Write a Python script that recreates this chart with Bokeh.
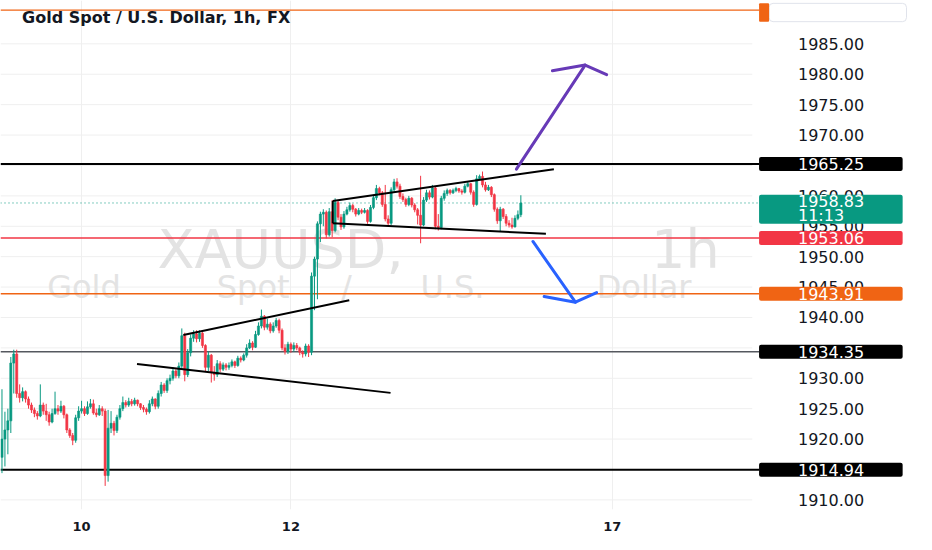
from bokeh.core.properties import value
from bokeh.embed import file_html
from bokeh.models import ColumnDataSource, FixedTicker, Label, Range1d
from bokeh.plotting import figure
from bokeh.resources import INLINE

# XAUUSD 1h candles (open of bar n = close of bar n-1)
first_open = 1917.0
closes = [
    1920.0, 1921.5, 1923.0, 1932.5, 1934.0, 1927.5, 1926.8, 1927.8, 1926.6, 1925.6,
    1924.8, 1924.2, 1923.8, 1925.6, 1924.6, 1924.0, 1922.8, 1924.2, 1925.0, 1924.6,
    1925.4, 1924.0, 1921.5, 1920.6, 1919.8, 1923.5, 1924.6, 1925.0, 1924.2, 1925.3,
    1925.8, 1924.3, 1924.0, 1925.0, 1924.6, 1914.0, 1921.8, 1922.6, 1921.4, 1923.6,
    1925.0, 1926.0, 1925.6, 1926.2, 1925.8, 1926.4, 1925.8, 1925.2, 1924.9, 1924.5,
    1925.8, 1926.6, 1925.4, 1927.5, 1928.9, 1928.0, 1929.6, 1930.0, 1931.2, 1930.4,
    1932.0, 1937.0, 1930.6, 1934.2, 1936.6, 1937.3, 1936.5, 1937.4, 1935.4, 1931.8,
    1933.8, 1931.0, 1930.6, 1932.4, 1931.5, 1932.2, 1931.8, 1932.1, 1932.7, 1932.1,
    1933.3, 1933.0, 1933.8, 1935.0, 1935.8, 1935.1, 1937.2, 1938.6, 1940.2, 1938.4,
    1938.9, 1937.8, 1938.6, 1939.5, 1937.9, 1935.0, 1934.4, 1935.6, 1934.8, 1935.4,
    1935.0, 1934.3, 1934.0, 1935.3, 1934.3, 1946.8, 1949.6, 1955.4, 1957.0, 1957.3,
    1953.6, 1957.4, 1954.3, 1958.9, 1956.5, 1954.9, 1957.0, 1957.7, 1958.4, 1957.8,
    1957.0, 1957.6, 1957.3, 1957.6, 1955.8, 1958.1, 1959.7, 1961.2, 1960.5, 1958.6,
    1956.2, 1955.5, 1961.0, 1962.3, 1961.6, 1959.9, 1959.4, 1958.6, 1959.6, 1958.5,
    1957.7, 1956.8, 1955.2, 1959.3, 1960.5, 1959.8, 1961.3, 1955.0, 1954.8, 1959.6,
    1960.4, 1960.9, 1960.5, 1960.9, 1961.2, 1960.8, 1960.6, 1961.6, 1962.0, 1960.6,
    1958.6, 1962.8, 1963.2, 1961.8, 1961.0, 1961.4, 1960.2, 1957.8, 1955.9, 1957.8,
    1956.6, 1955.5, 1955.2, 1954.9, 1956.3, 1956.9, 1958.83,
]
highs = [
    1928.2, 1924.5, 1925.0, 1933.5, 1934.7, 1934.7, 1929.0, 1928.5, 1928.0, 1927.0,
    1926.0, 1925.2, 1924.6, 1929.0, 1926.0, 1925.8, 1924.5, 1925.0, 1927.8, 1925.6,
    1926.3, 1925.6, 1924.2, 1921.8, 1921.0, 1924.0, 1925.4, 1926.3, 1925.4, 1926.2,
    1926.6, 1926.5, 1925.0, 1925.6, 1925.4, 1925.0, 1924.8, 1924.6, 1923.0, 1924.0,
    1925.6, 1927.0, 1926.4, 1926.8, 1926.6, 1926.8, 1926.5, 1925.9, 1925.6, 1925.2,
    1926.4, 1927.0, 1926.7, 1928.0, 1929.4, 1929.2, 1930.0, 1930.6, 1931.8, 1931.5,
    1932.6, 1938.2, 1937.5, 1934.8, 1937.2, 1937.9, 1937.9, 1937.9, 1937.6, 1935.6,
    1934.4, 1934.0, 1932.0, 1933.0, 1932.8, 1932.6, 1932.5, 1932.6, 1933.1, 1932.9,
    1933.7, 1933.6, 1934.1, 1935.6, 1936.4, 1936.1, 1937.8, 1939.2, 1941.3, 1940.4,
    1939.8, 1939.2, 1939.2, 1939.9, 1939.8, 1938.2, 1935.6, 1936.0, 1935.9, 1935.9,
    1935.8, 1935.2, 1934.6, 1935.7, 1935.6, 1947.4, 1950.0, 1955.8, 1957.4, 1957.8,
    1957.6, 1958.0, 1959.3, 1959.6, 1959.2, 1957.0, 1957.5, 1958.2, 1958.9, 1958.7,
    1958.0, 1958.0, 1957.9, 1958.0, 1957.8, 1958.5, 1960.2, 1961.8, 1961.5, 1960.8,
    1961.8, 1956.8, 1961.4, 1962.8, 1962.9, 1962.0, 1960.4, 1959.7, 1960.0, 1959.8,
    1958.8, 1958.0, 1963.3, 1959.8, 1961.0, 1960.9, 1961.8, 1961.6, 1957.0, 1960.0,
    1960.9, 1961.2, 1961.1, 1961.2, 1961.5, 1961.3, 1961.1, 1962.0, 1962.3, 1962.1,
    1960.9, 1963.4, 1963.5, 1964.0, 1962.3, 1961.8, 1961.6, 1960.4, 1958.1, 1958.2,
    1958.0, 1957.0, 1956.0, 1956.4, 1956.8, 1957.6, 1960.1,
]
lows = [
    1914.4, 1915.5, 1917.5, 1921.0, 1927.5, 1926.8, 1926.0, 1926.2, 1926.0, 1925.0,
    1924.3, 1923.6, 1923.2, 1923.6, 1924.0, 1923.0, 1922.2, 1922.6, 1924.0, 1924.0,
    1924.3, 1923.4, 1921.0, 1920.2, 1919.0, 1919.4, 1923.0, 1924.2, 1923.8, 1924.0,
    1925.0, 1924.0, 1923.6, 1923.8, 1923.8, 1912.3, 1913.0, 1921.0, 1920.6, 1921.0,
    1923.2, 1924.6, 1925.2, 1925.3, 1925.4, 1925.5, 1925.4, 1924.8, 1924.4, 1924.0,
    1924.2, 1925.4, 1924.9, 1925.0, 1927.0, 1927.6, 1927.6, 1929.0, 1929.6, 1930.0,
    1930.0, 1931.5, 1929.5, 1930.2, 1933.6, 1936.0, 1935.9, 1936.0, 1935.0, 1931.2,
    1931.2, 1929.3, 1929.6, 1930.2, 1931.0, 1931.2, 1931.3, 1931.4, 1931.8, 1931.7,
    1931.9, 1932.6, 1932.8, 1933.4, 1934.8, 1934.6, 1935.0, 1937.0, 1938.2, 1937.9,
    1938.0, 1937.4, 1937.5, 1938.3, 1937.4, 1934.6, 1933.9, 1934.0, 1934.2, 1934.4,
    1934.6, 1933.8, 1933.4, 1933.6, 1933.5, 1933.8, 1941.2, 1943.0, 1952.4, 1955.0,
    1953.0, 1953.3, 1953.2, 1954.0, 1956.0, 1954.4, 1954.6, 1956.8, 1957.4, 1957.3,
    1956.6, 1956.8, 1957.0, 1957.1, 1955.4, 1955.6, 1957.8, 1959.3, 1960.1, 1958.2,
    1955.8, 1955.0, 1955.2, 1960.6, 1961.2, 1959.5, 1959.0, 1958.2, 1958.3, 1958.1,
    1957.3, 1955.3, 1952.2, 1955.0, 1959.0, 1959.4, 1959.6, 1954.5, 1954.3, 1954.5,
    1959.2, 1960.0, 1960.2, 1960.3, 1960.6, 1960.5, 1960.2, 1960.4, 1961.4, 1960.2,
    1958.2, 1958.4, 1962.6, 1961.4, 1960.7, 1960.8, 1959.8, 1957.4, 1955.4, 1954.2,
    1956.2, 1955.0, 1954.8, 1954.6, 1954.8, 1956.0, 1956.5,
]

# day labels of the time axis (bar positions) and price ticks
day_ticks = [27, 98, 207]
day_labels = ["10", "12", "17"]
grid_prices = [1910, 1915, 1920, 1925, 1930, 1935, 1940, 1945, 1950, 1955,
               1960, 1965, 1970, 1975, 1980, 1985]
label_prices = [1910, 1920, 1925, 1930, 1940, 1945, 1950, 1955, 1960,
                1970, 1975, 1980, 1985]

# horizontal levels drawn on the chart
level_prices = [1965.25, 1953.06, 1943.91, 1934.35, 1914.94]
level_texts = ["1965.25", "1953.06", "1943.91", "1934.35", "1914.94"]
level_colors = ["#000000", "#f23645", "#f06414", "#55585f", "#000000"]
tag_colors = ["#000000", "#f23645", "#f06414", "#000000", "#000000"]
level_widths = [2, 1.5, 1.5, 1.5, 2]
alert_price = 1990.55
last_price = 1958.83
last_text = "1958.83"
countdown = "11:13"

# trend lines (bar, price)
trend_x0 = [45.8, 61.5, 112.2, 112.2, 112.2]
trend_y0 = [1932.36, 1937.12, 1959.16, 1955.51, 1959.16]
trend_x1 = [131.8, 117.8, 187.2, 184.5, 112.2]
trend_y1 = [1927.60, 1942.82, 1964.39, 1953.76, 1955.51]

# projection arrows: start, tip, two head ends
up_arrow_x = [174.5, 197.8, 186.7, 205.1]
up_arrow_y = [1964.39, 1981.51, 1980.56, 1979.93]
down_arrow_x = [180.1, 194.5, 183.9, 201.7]
down_arrow_y = [1952.50, 1942.51, 1943.46, 1944.09]

GREEN = "#089981"
RED = "#f23645"
ORANGE = "#f06414"
INK = "#131722"
FONT = "DejaVu Sans"

# the price scale lives inside the frame, right of the chart pane
PANE_END = 254.5     # last bar slot of the chart pane
TAG_L, TAG_R = 256.8, 305.5
SCALE_TEXT_X = 270.0

p = figure(width=916, height=534, output_backend="svg", toolbar_location=None,
           x_range=Range1d(-0.5, 310.2), y_range=Range1d(1908.42, 1992.13),
           y_axis_location=None, min_border_left=0, min_border_top=0,
           min_border_right=0, min_border_bottom=25)
p.outline_line_color = None
p.background_fill_color = "white"
p.border_fill_color = "white"

p.ygrid.visible = False
p.xgrid.ticker = FixedTicker(ticks=day_ticks)
p.xgrid.grid_line_color = "#efefef"

p.xaxis.ticker = FixedTicker(ticks=day_ticks)
p.xaxis.major_label_overrides = dict(zip(day_ticks, day_labels))
p.xaxis.major_label_standoff = 6
p.xaxis.major_label_text_font = FONT
p.xaxis.major_label_text_font_style = "bold"
p.xaxis.major_label_text_font_size = "13px"
p.xaxis.major_label_text_color = INK
p.xaxis.axis_line_color = None
p.xaxis.major_tick_line_color = None
p.xaxis.minor_tick_line_color = None

# horizontal grid of the pane
p.segment(x0=-0.5, x1=PANE_END, y0=grid_prices, y1=grid_prices,
          line_color="#efefef", line_width=1)

# watermark
p.text(x=[94.5, 231.8], y=[1951.2, 1951.2], text=["XAUUSD,", "1h"],
       text_font=value(FONT), text_font_size="54px", text_color="#e3e3e3",
       text_align="center", text_baseline="alphabetic")
p.text(x=[27.8, 85.2, 116.8, 152.8, 217.8], y=[1945.0] * 5,
       text=["Gold", "Spot", "/", "U.S.", "Dollar"],
       text_font=value(FONT), text_font_size="32px", text_color="#e3e3e3",
       text_align="center", text_baseline="alphabetic")

# price scale tick labels
p.text(x=SCALE_TEXT_X, y=label_prices, text=[f"{v:.2f}" for v in label_prices],
       text_font=value(FONT), text_font_size="16px", text_color=INK,
       text_align="left", text_baseline="middle")

# level lines, running up to their tags
lvl = ColumnDataSource(dict(y=level_prices + [alert_price],
                            color=level_colors + [ORANGE],
                            width=level_widths + [1.2]))
p.segment(x0=-0.5, x1=TAG_L, y0="y", y1="y", line_color="color", line_width="width", source=lvl)
p.segment(x0=-0.5, x1=TAG_L, y0=last_price, y1=last_price,
          line_color=GREEN, line_width=1, line_dash="1 3")

# candles
opens = [first_open] + closes[:-1]
src = ColumnDataSource(dict(
    x=list(range(len(closes))),
    high=highs, low=lows,
    top=[max(o, c) for o, c in zip(opens, closes)],
    bottom=[min(o, c) for o, c in zip(opens, closes)],
    color=[GREEN if c >= o else RED for o, c in zip(opens, closes)],
))
p.segment(x0="x", y0="low", x1="x", y1="high", line_color="color", line_width=1, source=src)
p.vbar(x="x", width=0.72, top="top", bottom="bottom", fill_color="color",
       line_color="color", line_width=0.6, source=src)

# drawings
p.segment(x0=trend_x0, y0=trend_y0, x1=trend_x1, y1=trend_y1,
          line_color="black", line_width=2)
for ax_, ay_, col in ((up_arrow_x, up_arrow_y, "#673ab7"),
                      (down_arrow_x, down_arrow_y, "#2962ff")):
    p.multi_line(xs=[[ax_[0], ax_[1]], [ax_[2], ax_[1], ax_[3]]],
                 ys=[[ay_[0], ay_[1]], [ay_[2], ay_[1], ay_[3]]],
                 line_color=col, line_width=3, line_cap="round", line_join="round")

# title
p.add_layout(Label(x=21.6, x_units="screen", y=1989.3, text="Gold Spot / U.S. Dollar, 1h, FX",
                   text_font=FONT, text_font_style="bold", text_font_size="16px",
                   text_color=INK, text_baseline="alphabetic"))

# price scale tags
p.quad(left=260.2, right=306.8, bottom=1988.65, top=1991.66, fill_color="white",
       line_color="#e0e3eb", line_width=1, border_radius=4)
p.quad(left=TAG_L, right=260.2, bottom=1988.65, top=1991.66, fill_color=ORANGE,
       line_color=None, border_radius=1)

p.quad(left=TAG_L, right=TAG_R, bottom=last_price - 3.4, top=last_price + 1.35,
       fill_color=GREEN, line_color=None, border_radius=2)
p.quad(left=TAG_L, right=TAG_R, bottom=[v - 1.15 for v in level_prices],
       top=[v + 1.15 for v in level_prices], fill_color=tag_colors,
       line_color=None, border_radius=2)
p.text(x=SCALE_TEXT_X, y=level_prices + [last_price + 0.3, last_price - 2.05],
       text=level_texts + [last_text, countdown],
       text_font=value(FONT), text_font_size="16px", text_color="white",
       text_align="left", text_baseline="middle")

open("out.html", "w").write(file_html(p, INLINE))
